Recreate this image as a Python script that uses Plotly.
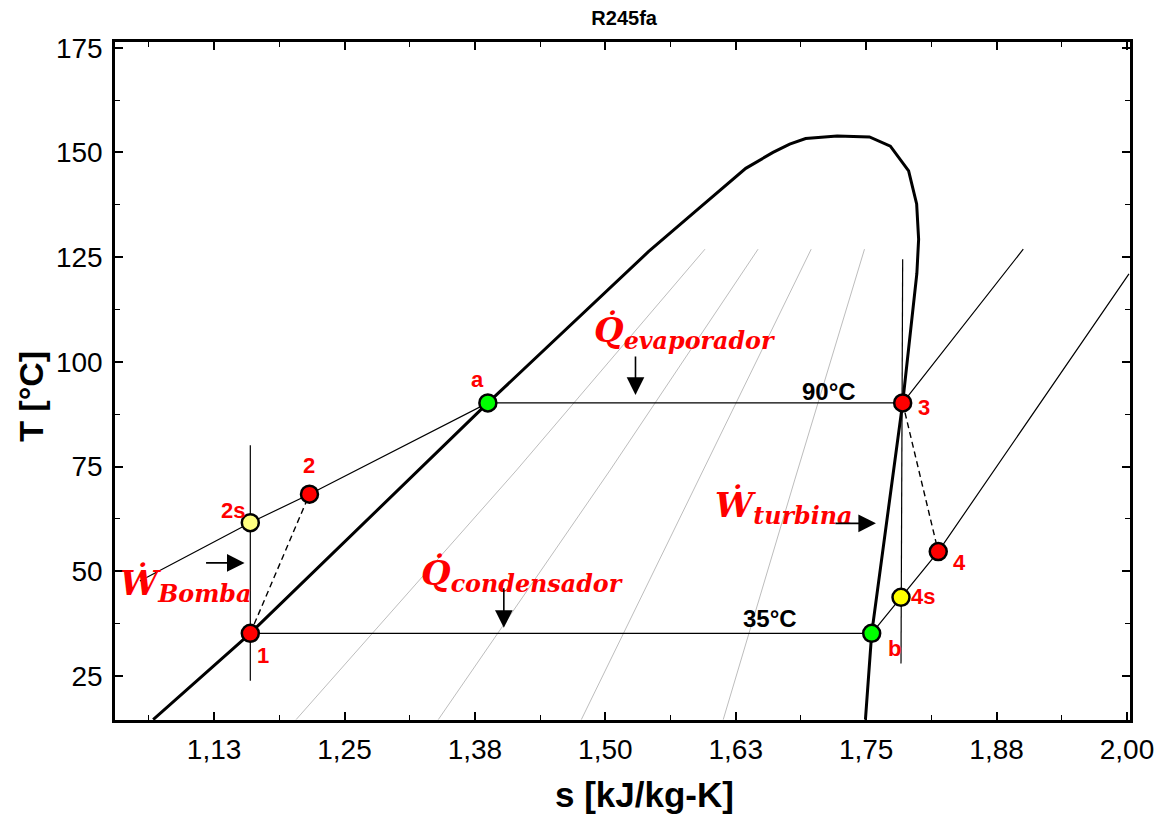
import plotly.graph_objects as go

# ---------------- data ----------------
# saturation dome (s [kJ/kg-K], T [°C])
dome_s = [1.0666, 1.1597, 1.3874, 1.5413, 1.5891, 1.6346, 1.6607, 1.6767, 1.6920,
          1.7222, 1.7532, 1.7732, 1.7907, 1.7984, 1.8003, 1.7986, 1.7850, 1.7553, 1.7493]
dome_T = [14.6, 35.2, 90.2, 126.3, 136.5, 146.2, 150.0, 152.0, 153.3,
          153.9, 153.7, 151.5, 145.6, 137.7, 129.3, 121.1, 90.2, 35.2, 14.6]

# high-pressure isobar (2s -> 2 -> a -> 3 -> superheated)
hp_s = [1.0539, 1.1597, 1.2164, 1.3874, 1.7850, 1.9006]
hp_T = [47.7, 61.6, 68.4, 90.2, 90.2, 126.9]

# low-pressure isobar (1 -> b -> 4s -> 4 -> superheated)
lp_s = [1.1597, 1.7553, 1.7834, 1.8191, 2.0019]
lp_T = [35.2, 35.2, 43.8, 54.7, 121.0]

# isentropic guide lines
pump_s = [1.1597, 1.1597]
pump_T = [23.9, 80.1]
turb_s = [1.7850, 1.7834]
turb_T = [124.5, 28.0]

# real processes (dashed)
real_pump_s = [1.1597, 1.2164]
real_pump_T = [35.2, 68.4]
real_turb_s = [1.7850, 1.8191]
real_turb_T = [90.2, 54.7]

# gray auxiliary lines
gray_s = [[1.2036, 1.4151, 1.5955],
          [1.3399, 1.5047, 1.6464],
          [1.4770, 1.5891, 1.6973],
          [1.6130, 1.6815, 1.7484]]
gray_T = [[14.6, 74.2, 126.9],
          [14.6, 74.2, 126.9],
          [14.6, 71.8, 126.9],
          [14.6, 71.8, 126.9]]

# state points
pt_names = ["1", "2s", "2", "a", "3", "4s", "4", "b"]
pt_s = [1.1597, 1.1597, 1.2164, 1.3874, 1.7850, 1.7834, 1.8191, 1.7553]
pt_T = [35.2, 61.6, 68.4, 90.2, 90.2, 43.8, 54.7, 35.2]
pt_color = ["#FF0000", "#FFFF80", "#FF0000", "#00FF00", "#FF0000", "#FFFF00", "#FF0000", "#00FF00"]

# point label positions
lbl_text = ["1", "2s", "2", "a", "3", "4s", "4", "b"]
lbl_s = [1.1717, 1.1431, 1.2164, 1.3779, 1.8057, 1.8047, 1.8397, 1.7770]
lbl_T = [29.8, 64.5, 75.2, 95.9, 89.1, 43.9, 52.0, 31.6]

# temperature labels
temp_text = ["90°C", "35°C"]
temp_s = [1.7140, 1.6576]
temp_T = [92.9, 38.8]

x_tickvals = [1.125, 1.25, 1.375, 1.5, 1.625, 1.75, 1.875, 2.0]
x_ticktext = ["1,13", "1,25", "1,38", "1,50", "1,63", "1,75", "1,88", "2,00"]
y_tickvals = [25, 50, 75, 100, 125, 150, 175]

# ---------------- figure ----------------
fig = go.Figure()

def line(xs, ys, color="black", width=1.2, dash="solid"):
    fig.add_trace(go.Scatter(x=xs, y=ys, mode="lines",
                             line=dict(color=color, width=width, dash=dash),
                             hoverinfo="skip", showlegend=False))

for gs, gt in zip(gray_s, gray_T):
    line(gs, gt, color="#BDBDBD", width=1)

line(hp_s, hp_T)
line(lp_s, lp_T)
line(pump_s, pump_T)
line(turb_s, turb_T)
line(real_pump_s, real_pump_T, width=1.4, dash="6px,4px")
line(real_turb_s, real_turb_T, width=1.4, dash="6px,4px")
line(dome_s, dome_T, width=3)

fig.add_trace(go.Scatter(x=pt_s, y=pt_T, mode="markers",
                         marker=dict(symbol="circle", size=17, color=pt_color,
                                     line=dict(color="black", width=2.5)),
                         hoverinfo="skip", showlegend=False))

ann = []
for t, xs, ys in zip(lbl_text, lbl_s, lbl_T):
    ann.append(dict(x=xs, y=ys, xref="x", yref="y", text=t, showarrow=False,
                    font=dict(family="Liberation Sans, Arial", size=22, color="#FF0000", weight="bold")))
for t, xs, ys in zip(temp_text, temp_s, temp_T):
    ann.append(dict(x=xs, y=ys, xref="x", yref="y", text=t, showarrow=False,
                    font=dict(family="Liberation Sans, Arial", size=24, color="black", weight="bold")))

big_font = dict(family="DejaVu Serif", size=34, color="#FF0000", weight="bold", style="italic")
ann.append(dict(x=1.4868, y=106.9, xref="x", yref="y", xanchor="left", yanchor="middle",
                text="Q\u0307<sub>evaporador</sub>", showarrow=False, font=big_font))
ann.append(dict(x=1.3215, y=49.1, xref="x", yref="y", xanchor="left", yanchor="middle",
                text="Q\u0307<sub>condensador</sub>", showarrow=False, font=big_font))
ann.append(dict(x=1.0330, y=46.7, xref="x", yref="y", xanchor="left", yanchor="middle",
                text="\u1E86<sub>Bomba</sub>", showarrow=False, font=big_font))
ann.append(dict(x=1.6030, y=65.3, xref="x", yref="y", xanchor="left", yanchor="middle",
                text="\u1E86<sub>turbina</sub>", showarrow=False, font=big_font))

# arrows (head positions in data, tails as pixel offsets)
arrows = [(1.5289, 92.1, 0, -40), (1.4027, 36.5, 0, -41),
          (1.1542, 52.0, -40, 0), (1.7594, 61.45, -42, 0)]
for xs, ys, axp, ayp in arrows:
    ann.append(dict(x=xs, y=ys, xref="x", yref="y", ax=axp, ay=ayp, text="",
                    showarrow=True, arrowhead=2, arrowsize=2.2, arrowwidth=1.6,
                    arrowcolor="black"))

# axis titles
ann.append(dict(x=0.5216, y=-0.1106, xref="paper", yref="paper", text="s [kJ/kg-K]",
                showarrow=False, xanchor="center", yanchor="middle",
                font=dict(family="Liberation Sans, Arial", size=35, color="black", weight="bold")))
ann.append(dict(x=-0.0835, y=0.477, xref="paper", yref="paper", text="T [°C]",
                showarrow=False, xanchor="center", yanchor="middle", textangle=-90,
                font=dict(family="Liberation Sans, Arial", size=34, color="black", weight="bold")))

fig.update_layout(
    width=1166, height=814,
    margin=dict(l=115, r=31, t=42, b=94),
    paper_bgcolor="white", plot_bgcolor="white",
    title=dict(text="R245fa", x=0.5353, xanchor="center", y=0.978, yanchor="middle",
               font=dict(family="Liberation Sans, Arial", size=20, color="black", weight="bold")),
    annotations=ann,
    showlegend=False,
)

axis_common = dict(showline=True, linecolor="black", linewidth=2.5, mirror="allticks",
                   ticks="inside", ticklen=8, tickwidth=1.5, tickcolor="black",
                   showgrid=False, zeroline=False,
                   tickfont=dict(family="Liberation Sans, Arial", size=28, color="black"))

fig.update_xaxes(range=[1.030, 2.0029], tickmode="array", tickvals=x_tickvals,
                 ticktext=x_ticktext, ticklabelstandoff=3,
                 minor=dict(ticks="inside", ticklen=5, tickwidth=1.2, tickcolor="black",
                            tick0=1.0, dtick=0.0625, showgrid=False),
                 **axis_common)
fig.update_yaxes(range=[14.5, 176.36], tickmode="array", tickvals=y_tickvals,
                 minor=dict(ticks="inside", ticklen=5, tickwidth=1.2, tickcolor="black",
                            tick0=0, dtick=12.5, showgrid=False),
                 ticklabelstandoff=4,
                 **axis_common)

fig.write_html("out.html")
